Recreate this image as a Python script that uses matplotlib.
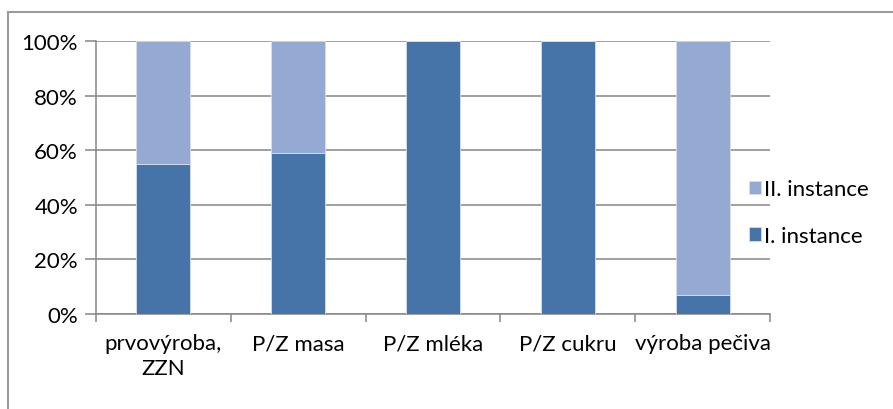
import numpy as np
import matplotlib.pyplot as plt
from matplotlib.patches import Rectangle
from matplotlib.ticker import PercentFormatter

plt.rcParams['font.family'] = ['Lato', 'DejaVu Sans']

kategorie = ["prvovýroba,\nZZN", "P/Z masa", "P/Z mléka", "P/Z cukru", "výroba pečiva"]
prvni_instance = [55, 59, 100, 100, 7]
druha_instance = [45, 41, 0, 0, 93]

TMAVA = "#4673A8"
SVETLA = "#94AAD3"
SEDA = "#868686"
VELIKOST = 16

fig = plt.figure(figsize=(8.93, 4.10), dpi=100)
ax = fig.add_axes([96 / 893, 1 - 315 / 410, 674 / 893, 273 / 410])

x = np.arange(len(kategorie))
b1 = ax.bar(x, prvni_instance, width=0.4, color=TMAVA, edgecolor="#D6DEEC", linewidth=0.6,
            label="I. instance", zorder=3)
b2 = ax.bar(x, druha_instance, width=0.4, bottom=prvni_instance, color=SVETLA,
            edgecolor="#D6DEEC", linewidth=0.6, label="II. instance", zorder=3)

ax.set_xlim(-0.5, len(kategorie) - 0.5)
ax.set_ylim(0, 100)
ax.set_yticks(np.arange(0, 101, 20))
ax.yaxis.set_major_formatter(PercentFormatter(decimals=0))
ax.grid(axis="y", color=SEDA, linewidth=1.1, zorder=0)

# popisky kategorii uprostred, carky na hranicich
ax.set_xticks(np.arange(-0.5, len(kategorie), 1.0))
ax.set_xticklabels([])
ax.set_xticks(x, minor=True)
ax.set_xticklabels(kategorie, minor=True, fontsize=VELIKOST, multialignment="center",
                   linespacing=1.3)
ax.tick_params(axis="x", which="minor", length=0, pad=14)
ax.tick_params(axis="x", which="major", length=6, color=SEDA, width=1.1)
ax.tick_params(axis="y", length=8, color=SEDA, width=1.1, labelsize=VELIKOST, pad=5)

for s in ["top", "right"]:
    ax.spines[s].set_visible(False)
for s in ["left", "bottom"]:
    ax.spines[s].set_color(SEDA)
    ax.spines[s].set_linewidth(1.1)

leg = ax.legend(handles=[b2, b1], loc="center left", bbox_to_anchor=(0.955, 0.372),
                frameon=False, fontsize=VELIKOST, handlelength=0.55, handleheight=0.55,
                handletextpad=0.15, labelspacing=1.2, borderaxespad=0)

# ramecek kolem grafu
fig.patches.append(Rectangle((8 / 893, -0.1), 1.2, 1 - 13 / 410 + 0.1, transform=fig.transFigure,
                             fill=False, edgecolor="#9A9A9A", linewidth=1.5))

fig.savefig("out.png", dpi=100)
